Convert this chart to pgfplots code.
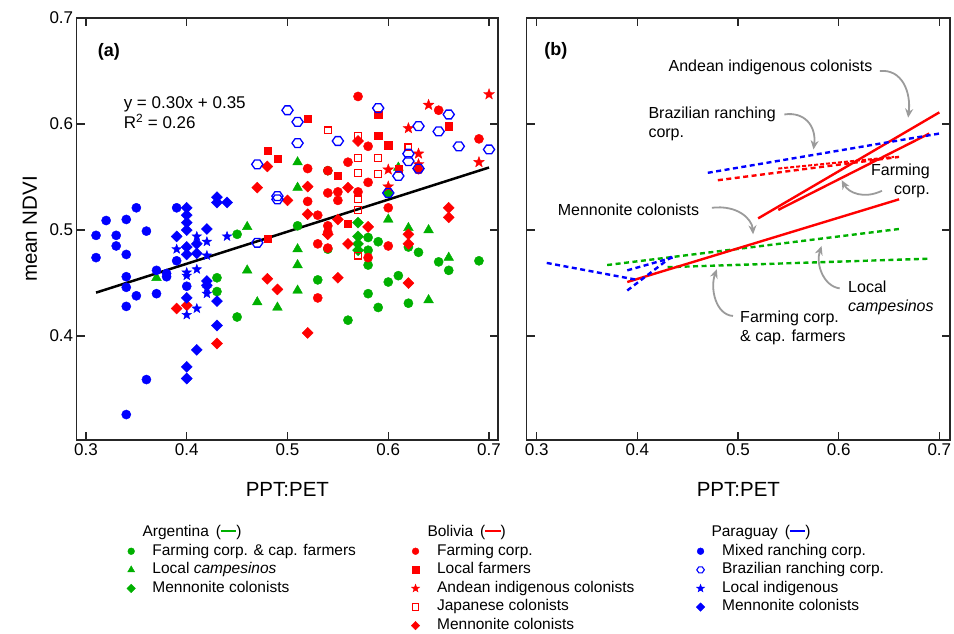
\documentclass[border=0pt]{standalone}
\usepackage{fontspec}
\setmainfont{Liberation Sans}
\usepackage{pgfplots}
\pgfplotsset{compat=1.18}
\usetikzlibrary{arrows.meta}

\definecolor{agreen}{RGB}{0,176,0}
\definecolor{bred}{RGB}{255,0,0}
\definecolor{pblue}{RGB}{0,0,255}
\definecolor{arrowgray}{RGB}{155,155,155}

% filled five-pointed star
\pgfdeclareplotmark{fstar}{%
  \pgfpathmoveto{\pgfpointpolar{90}{\pgfplotmarksize}}%
  \pgfpathlineto{\pgfpointpolar{126}{0.42\pgfplotmarksize}}%
  \pgfpathlineto{\pgfpointpolar{162}{\pgfplotmarksize}}%
  \pgfpathlineto{\pgfpointpolar{198}{0.42\pgfplotmarksize}}%
  \pgfpathlineto{\pgfpointpolar{234}{\pgfplotmarksize}}%
  \pgfpathlineto{\pgfpointpolar{270}{0.42\pgfplotmarksize}}%
  \pgfpathlineto{\pgfpointpolar{306}{\pgfplotmarksize}}%
  \pgfpathlineto{\pgfpointpolar{342}{0.42\pgfplotmarksize}}%
  \pgfpathlineto{\pgfpointpolar{18}{\pgfplotmarksize}}%
  \pgfpathlineto{\pgfpointpolar{54}{0.42\pgfplotmarksize}}%
  \pgfpathclose\pgfusepathqfillstroke}
% open hexagon
\pgfdeclareplotmark{hexo}{%
  \pgfpathmoveto{\pgfpointpolar{0}{\pgfplotmarksize}}%
  \pgfpathlineto{\pgfpointpolar{60}{0.9\pgfplotmarksize}}%
  \pgfpathlineto{\pgfpointpolar{120}{0.9\pgfplotmarksize}}%
  \pgfpathlineto{\pgfpointpolar{180}{\pgfplotmarksize}}%
  \pgfpathlineto{\pgfpointpolar{240}{0.9\pgfplotmarksize}}%
  \pgfpathlineto{\pgfpointpolar{300}{0.9\pgfplotmarksize}}%
  \pgfpathclose\pgfusepathqstroke}

\tikzset{
  annot/.style={font=\fontsize{16}{19}\selectfont},
  arr/.style={arrowgray, line width=1.8pt, -{Stealth[length=9pt, width=8pt]}},
}

\pgfplotsset{
  panel/.style={
    scale only axis, height=422pt, ymin=0.302, ymax=0.7,
    axis line style={black!85, line width=1.3pt},
    tick align=inside, tick pos=both, xticklabel pos=left, yticklabel pos=left,
    major tick length=8pt, every tick/.style={black!85, line width=1.2pt},
    xtick={0.3,0.4,0.5,0.6,0.7}, ytick={0.4,0.5,0.6,0.7},
    /pgf/number format/fixed, /pgf/number format/fixed zerofill,
    /pgf/number format/precision=1, /pgf/number format/assume math mode=true,
    ticklabel style={font=\fontsize{17}{20}\selectfont},
    label style={font=\fontsize{20.5}{24}\selectfont},
    xlabel={PPT:PET},
    xlabel style={at={(axis description cs:0.5,-0.116)}, anchor=center},
  },
  circ/.style={only marks, mark=*, mark size=4.6pt},
  tri/.style={only marks, mark=triangle*, mark size=5.6pt},
  dia/.style={only marks, mark=square*, mark size=3.9pt, mark options={rotate=45}},
  sqf/.style={only marks, mark=square*, mark size=3.6pt},
  sqo/.style={only marks, mark=square, mark size=3.4pt, line width=1.2pt},
  str/.style={only marks, mark=fstar, mark size=5.6pt},
  hex/.style={only marks, mark=hexo, mark size=5.6pt, line width=1.3pt},
  trend/.style={line width=2.4pt, dash pattern=on 5pt off 3.5pt},
  legbox/.style={hide axis, scale only axis, width=1pt, height=1pt,
    xmin=0, xmax=1, ymin=0, ymax=1, anchor=south west,
    legend cell align=left,
    legend style={at={(0,0)}, anchor=north west, draw=none, fill=none,
      inner sep=0pt, outer sep=0pt, row sep=4.1pt, column sep=0pt,
      font=\fontsize{15.5}{18}\selectfont,
      nodes={inner sep=0pt, text height=11pt, text depth=3.5pt}},
    legend image code/.code={\path (-6pt,0pt) (21pt,0pt);
      \draw[##1] plot coordinates {(0pt,0pt)};}},
}

\begin{document}
\begin{tikzpicture}
\useasboundingbox (0,0) rectangle (954pt,633pt);

% ---------------- panel (a) ----------------
\begin{axis}[panel, at={(76.7pt,193pt)}, anchor=south west,
  width=421.3pt, xmin=0.2908, xmax=0.7089,
  ylabel={mean NDVI},
  ylabel style={at={(axis description cs:-0.111,0.5)}, anchor=center}]

% Argentina
\addplot[circ, agreen] coordinates {
 (0.45,0.496) (0.43,0.455) (0.43,0.442) (0.45,0.418) (0.51,0.504) (0.60,0.535)
 (0.58,0.493) (0.58,0.481) (0.58,0.467) (0.59,0.489) (0.62,0.484) (0.63,0.479)
 (0.65,0.470) (0.66,0.462) (0.69,0.471) (0.53,0.453) (0.60,0.451) (0.61,0.457)
 (0.58,0.440) (0.59,0.427) (0.62,0.431) (0.56,0.415) (0.54,0.482) (0.54,0.556)};
\addplot[tri, agreen] coordinates {
 (0.51,0.564) (0.51,0.540) (0.46,0.503) (0.60,0.510) (0.62,0.502) (0.64,0.500)
 (0.61,0.559) (0.51,0.482) (0.51,0.467) (0.46,0.462) (0.47,0.432) (0.49,0.427)
 (0.51,0.443) (0.64,0.434) (0.66,0.474) (0.37,0.455)};
\addplot[dia, agreen] coordinates {
 (0.57,0.507) (0.57,0.494) (0.57,0.487) (0.57,0.481)};

% Bolivia
\addplot[circ, bred] coordinates {
 (0.57,0.626) (0.65,0.613) (0.69,0.586) (0.58,0.579) (0.56,0.564) (0.52,0.558)
 (0.54,0.556) (0.58,0.545) (0.55,0.536) (0.55,0.528) (0.54,0.535) (0.57,0.536)
 (0.52,0.527) (0.53,0.514) (0.60,0.521) (0.63,0.557) (0.54,0.504) (0.54,0.498)
 (0.53,0.487) (0.54,0.483) (0.60,0.485) (0.58,0.474) (0.53,0.436)};
\addplot[sqf, bred] coordinates {
 (0.52,0.605) (0.48,0.575) (0.49,0.567) (0.59,0.609) (0.59,0.589) (0.60,0.580)
 (0.66,0.598) (0.55,0.551) (0.56,0.506) (0.61,0.558) (0.48,0.492)};
\addplot[str, bred] coordinates {
 (0.70,0.628) (0.64,0.618) (0.62,0.596) (0.63,0.572) (0.63,0.562) (0.60,0.557)
 (0.60,0.541) (0.69,0.564)};
\addplot[sqo, bred] coordinates {
 (0.54,0.594) (0.57,0.589) (0.57,0.568) (0.59,0.568) (0.57,0.554) (0.59,0.553)
 (0.62,0.578) (0.57,0.529) (0.57,0.519) (0.57,0.476)};
\addplot[dia, bred] coordinates {
 (0.48,0.560) (0.47,0.540) (0.50,0.528) (0.52,0.541) (0.52,0.515) (0.56,0.540)
 (0.57,0.584) (0.55,0.510) (0.54,0.496) (0.66,0.521) (0.66,0.512) (0.58,0.503)
 (0.62,0.496) (0.62,0.487) (0.56,0.487) (0.48,0.454) (0.49,0.444) (0.55,0.455)
 (0.62,0.450) (0.39,0.426) (0.40,0.429) (0.43,0.393) (0.52,0.403)};

% Paraguay
\addplot[circ, pblue] coordinates {
 (0.31,0.495) (0.31,0.474) (0.32,0.509) (0.33,0.495) (0.33,0.485) (0.34,0.510)
 (0.34,0.477) (0.34,0.456) (0.34,0.446) (0.34,0.428) (0.34,0.326) (0.35,0.521)
 (0.35,0.438) (0.36,0.499) (0.36,0.359) (0.37,0.462) (0.37,0.440) (0.38,0.459)
 (0.38,0.456) (0.39,0.521) (0.39,0.471) (0.40,0.447)};
\addplot[hex, pblue] coordinates {
 (0.50,0.613) (0.51,0.602) (0.51,0.582) (0.47,0.562) (0.49,0.532) (0.49,0.529)
 (0.55,0.584) (0.59,0.615) (0.63,0.598) (0.65,0.593) (0.66,0.609) (0.67,0.579)
 (0.70,0.576) (0.62,0.572) (0.62,0.565) (0.61,0.551) (0.63,0.558) (0.60,0.535)
 (0.47,0.488)};
\addplot[str, pblue, mark size=5pt] coordinates {
 (0.41,0.494) (0.42,0.489) (0.44,0.494) (0.39,0.482) (0.42,0.476) (0.40,0.460)
 (0.40,0.457) (0.41,0.463) (0.42,0.445) (0.42,0.440) (0.41,0.426) (0.40,0.420)};
\addplot[dia, pblue] coordinates {
 (0.40,0.521) (0.40,0.514) (0.40,0.507) (0.40,0.500) (0.43,0.531) (0.43,0.526)
 (0.44,0.526) (0.42,0.501) (0.39,0.494) (0.40,0.484) (0.40,0.477) (0.41,0.487)
 (0.41,0.478) (0.42,0.452) (0.42,0.448) (0.40,0.436) (0.43,0.433) (0.43,0.410)
 (0.41,0.387) (0.40,0.371) (0.40,0.360)};

% pooled regression
\addplot[black, line width=2.5pt] coordinates {(0.31,0.441) (0.70,0.559)};

\node[font=\bfseries\fontsize{18}{21}\selectfont] at (axis cs:0.3228,0.668) {(a)};
\node[font=\fontsize{17}{20}\selectfont, align=left, anchor=west]
  at (axis cs:0.334,0.6105) {y = 0.30x + 0.35\\R\textsuperscript{2} = 0.26};
\end{axis}

% ---------------- panel (b) ----------------
\begin{axis}[panel, at={(526.7pt,193pt)}, anchor=south west,
  width=423.3pt, xmin=0.2901, xmax=0.7106, yticklabels={}]

% Argentina
\addplot[trend, agreen] coordinates {(0.43,0.465) (0.69,0.473)};
\addplot[trend, agreen] coordinates {(0.37,0.467) (0.66,0.501)};
% Bolivia
\addplot[trend, bred] coordinates {(0.48,0.547) (0.66,0.569)};
\addplot[bred, line width=2pt, dash pattern=on 4pt off 2pt] coordinates {(0.54,0.558) (0.655,0.569)};
\addplot[bred, line width=2.4pt] coordinates {(0.54,0.519) (0.69,0.591)};
\addplot[bred, line width=2.4pt] coordinates {(0.52,0.511) (0.70,0.611)};
\addplot[bred, line width=2.4pt] coordinates {(0.39,0.451) (0.66,0.529)};
% Paraguay
\addplot[trend, pblue] coordinates {(0.47,0.554) (0.70,0.591)};
\addplot[trend, pblue] coordinates {(0.31,0.469) (0.40,0.453)};
\addplot[trend, pblue] coordinates {(0.39,0.462) (0.435,0.474)};
\addplot[trend, pblue] coordinates {(0.39,0.443) (0.437,0.477)};

\node[font=\bfseries\fontsize{18}{21}\selectfont] at (axis cs:0.319,0.669) {(b)};

\node[annot, anchor=east] at (axis cs:0.637,0.6535) {Andean indigenous colonists};
\draw[arr] (axis cs:0.641,0.650) .. controls (axis cs:0.663,0.652) and (axis cs:0.672,0.630) .. (axis cs:0.669,0.606);

\node[annot, anchor=west, align=left] at (axis cs:0.4076,0.600) {Brazilian ranching\\corp.};
\draw[arr] (axis cs:0.546,0.609) .. controls (axis cs:0.566,0.612) and (axis cs:0.578,0.598) .. (axis cs:0.575,0.576);

\node[annot, anchor=east, align=right] at (axis cs:0.694,0.546) {Farming\\corp.};
\draw[arr] (axis cs:0.643,0.537) .. controls (axis cs:0.625,0.529) and (axis cs:0.610,0.535) .. (axis cs:0.603,0.547);

\node[annot, anchor=east] at (axis cs:0.465,0.519) {Mennonite colonists};
\draw[arr] (axis cs:0.474,0.521) .. controls (axis cs:0.500,0.524) and (axis cs:0.514,0.510) .. (axis cs:0.515,0.496);

\node[annot, anchor=west, align=left] at (axis cs:0.606,0.436) {Local\\\textit{campesinos}};
\draw[arr] (axis cs:0.601,0.445) .. controls (axis cs:0.585,0.447) and (axis cs:0.577,0.468) .. (axis cs:0.583,0.485);

\node[annot, anchor=west, align=left] at (axis cs:0.4987,0.4077) {Farming corp.\\\& cap. farmers};
\draw[arr] (axis cs:0.495,0.419) .. controls (axis cs:0.478,0.420) and (axis cs:0.472,0.445) .. (axis cs:0.479,0.463);
\end{axis}

% ---------------- legend ----------------
\node[anchor=base west, font=\fontsize{15.5}{18}\selectfont] at (139pt,97pt)
  {Argentina \,(\textcolor{agreen}{\rule[0.27em]{1em}{2pt}})};
\node[anchor=base west, font=\fontsize{15.5}{18}\selectfont] at (424pt,97pt)
  {Bolivia \,(\textcolor{bred}{\rule[0.27em]{1em}{2pt}})};
\node[anchor=base west, font=\fontsize{15.5}{18}\selectfont] at (708pt,97pt)
  {Paraguay \,(\textcolor{pblue}{\rule[0.27em]{1em}{2pt}})};

\begin{axis}[legbox, at={(125pt,89pt)}]
\addlegendimage{only marks, mark=*, agreen, mark size=3.4pt}
\addlegendentry{Farming corp. \& cap. farmers}
\addlegendimage{only marks, mark=triangle*, agreen, mark size=4pt}
\addlegendentry{Local \textit{campesinos}}
\addlegendimage{only marks, mark=square*, agreen, mark size=3pt, mark options={rotate=45}}
\addlegendentry{Mennonite colonists}
\end{axis}

\begin{axis}[legbox, at={(409pt,89pt)}]
\addlegendimage{only marks, mark=*, bred, mark size=3.4pt}
\addlegendentry{Farming corp.}
\addlegendimage{only marks, mark=square*, bred, mark size=3.2pt}
\addlegendentry{Local farmers}
\addlegendimage{only marks, mark=fstar, bred, mark size=4.2pt}
\addlegendentry{Andean indigenous colonists}
\addlegendimage{only marks, mark=square, bred, mark size=3.2pt, line width=1.1pt}
\addlegendentry{Japanese colonists}
\addlegendimage{only marks, mark=square*, bred, mark size=3pt, mark options={rotate=45}}
\addlegendentry{Mennonite colonists}
\end{axis}

\begin{axis}[legbox, at={(694pt,89pt)}]
\addlegendimage{only marks, mark=*, pblue, mark size=3.4pt}
\addlegendentry{Mixed ranching corp.}
\addlegendimage{only marks, mark=hexo, pblue, mark size=3.8pt, line width=1.1pt}
\addlegendentry{Brazilian ranching corp.}
\addlegendimage{only marks, mark=fstar, pblue, mark size=4.2pt}
\addlegendentry{Local indigenous}
\addlegendimage{only marks, mark=square*, pblue, mark size=3pt, mark options={rotate=45}}
\addlegendentry{Mennonite colonists}
\end{axis}
\end{tikzpicture}
\end{document}
